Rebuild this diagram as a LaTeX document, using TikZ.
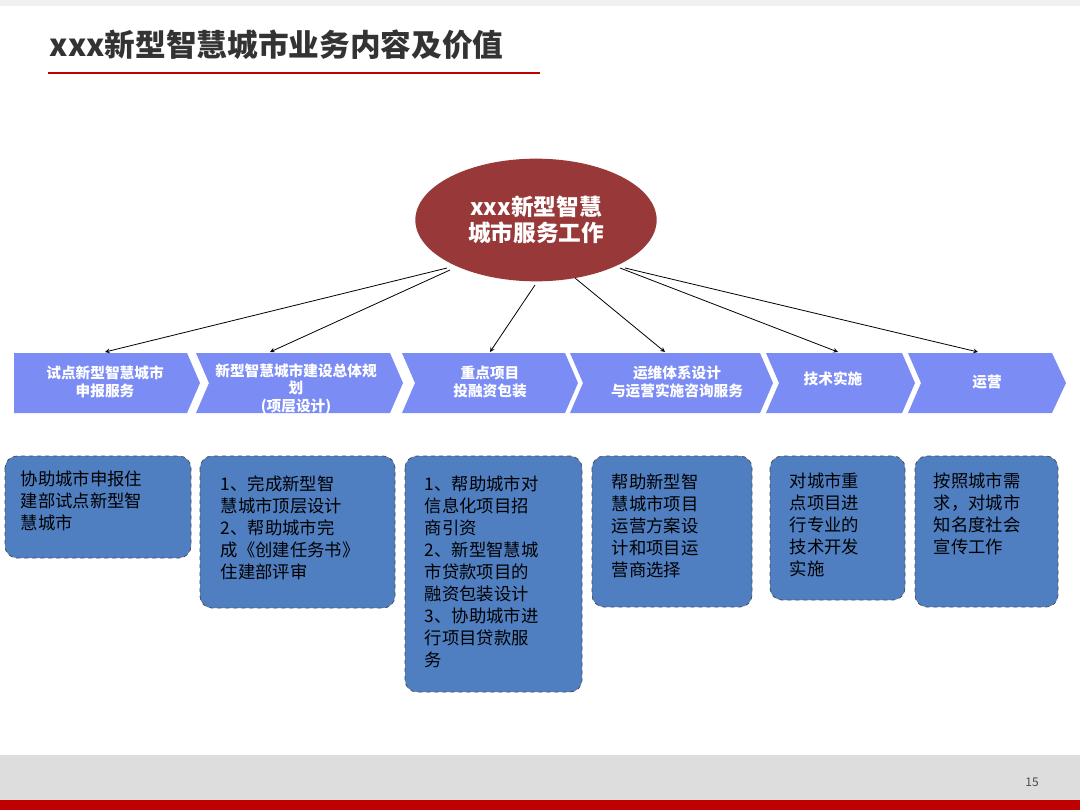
\documentclass[tikz,border=0pt]{standalone}
\usepackage{fontspec}
\setmainfont{Noto Sans CJK SC}
\usetikzlibrary{shapes.geometric}
\begin{document}
\begin{tikzpicture}[x=0.75pt,y=-0.75pt,
 chev/.style={fill=chevblue,draw=none},
 chevtxt/.style={text=white,font=\fontsize{11}{13}\selectfont\bfseries,align=center},
 box/.style={draw=black!70,dashed,fill=boxblue,rounded corners=9pt,line width=0.6pt},
 boxtxt/.style={text=black,font=\fontsize{13}{16.5}\selectfont,align=left,anchor=north west},
 arr/.style={->,>=stealth,line width=0.6pt}]
\definecolor{chevblue}{HTML}{7B8CF5}
\definecolor{boxblue}{HTML}{4F7FC0}
\definecolor{ellred}{HTML}{983838}
\definecolor{bandgray}{HTML}{DCDDDC}
\definecolor{bandred}{HTML}{BE0000}
\useasboundingbox (0,0) rectangle (1080,810);
\fill[white] (0,0) rectangle (1080,810);
\fill[black!6] (0,0) rectangle (1080,6);
% title
\node[anchor=west,text=black!80,font=\fontsize{23}{26}\selectfont\bfseries] (title) at (45,45) {xxx新型智慧城市业务内容及价值};
\draw[bandred,line width=1.5pt] (48,73) -- (540,73);
% ellipse
\node[ellipse,fill=ellred,draw=none,minimum width=181pt,minimum height=92pt,inner sep=0pt,text=white,font=\fontsize{17}{20}\selectfont\bfseries,align=center] (E) at (536,220) {xxx新型智慧\\城市服务工作};
% chevrons
\fill[chev] (14,353) -- (187,353) -- (200,383) -- (187,413) -- (14,413) -- cycle;
\fill[chev] (196,353) -- (390,353) -- (403,383) -- (390,413) -- (196,413) -- (209,383) -- cycle;
\fill[chev] (402,353) -- (565,353) -- (578,383) -- (565,413) -- (402,413) -- (415,383) -- cycle;
\fill[chev] (570,353) -- (760,353) -- (773,383) -- (760,413) -- (570,413) -- (583,383) -- cycle;
\fill[chev] (766,353) -- (902,353) -- (915,383) -- (902,413) -- (766,413) -- (779,383) -- cycle;
\fill[chev] (908,353) -- (1052,353) -- (1066,383) -- (1052,413) -- (908,413) -- (921,383) -- cycle;
\node[chevtxt] (c1) at (105,382) {试点新型智慧城市\\申报服务};
\begin{scope}
\clip (196,353) rectangle (403,413);
\node[chevtxt,anchor=north] (c2) at (296,359) {新型智慧城市建设总体规\\划\\(项层设计)};
\end{scope}
\node[chevtxt] (c3) at (490,382) {重点项目\\投融资包装};
\node[chevtxt] (c4) at (677,382) {运维体系设计\\与运营实施咨询服务};
\node[chevtxt] (c5) at (833,379) {技术实施};
\node[chevtxt] (c6) at (987,382) {运营};
\coordinate (t1) at (105,352);
\coordinate (t2) at (270,352);
\coordinate (t3) at (490,352);
\coordinate (t4) at (665,352);
\coordinate (t5) at (838,352);
\coordinate (t6) at (978,352);
\draw[arr] (447,268) -- (t1);
\draw[arr] (450,270) -- (t2);
\draw[arr] (535,285) -- (t3);
\draw[arr] (575,278) -- (t4);
\draw[arr] (620,268) -- (t5);
\draw[arr] (625,268) -- (t6);
% boxes
\draw[box] (5,456) rectangle (191,558);
\draw[box] (200,456) rectangle (395,608);
\draw[box] (405,456) rectangle (582,692);
\draw[box] (592,456) rectangle (752,607);
\draw[box] (770,456) rectangle (905,600);
\draw[box] (915,456) rectangle (1058,607);
\node[boxtxt] (b1) at (16,466) {协助城市申报住\\建部试点新型智\\慧城市};
\node[boxtxt] (b2) at (216,471) {1、完成新型智\\慧城市顶层设计\\2、帮助城市完\\成《创建任务书》\\住建部评审};
\node[boxtxt] (b3) at (420,471) {1、帮助城市对\\信息化项目招\\商引资\\2、新型智慧城\\市贷款项目的\\融资包装设计\\3、协助城市进\\行项目贷款服\\务};
\node[boxtxt] (b4) at (607,469) {帮助新型智\\慧城市项目\\运营方案设\\计和项目运\\营商选择};
\node[boxtxt] (b5) at (785,468) {对城市重\\点项目进\\行专业的\\技术开发\\实施};
\node[boxtxt] (b6) at (929,468) {按照城市需\\求，对城市\\知名度社会\\宣传工作};
% footer
\fill[bandgray] (0,755) rectangle (1080,800);
\fill[bandred] (0,800) rectangle (1080,810);
\node[font=\fontsize{9}{10}\selectfont,text=black!70] (pg) at (1032,782) {15};
\end{tikzpicture}
\end{document}
